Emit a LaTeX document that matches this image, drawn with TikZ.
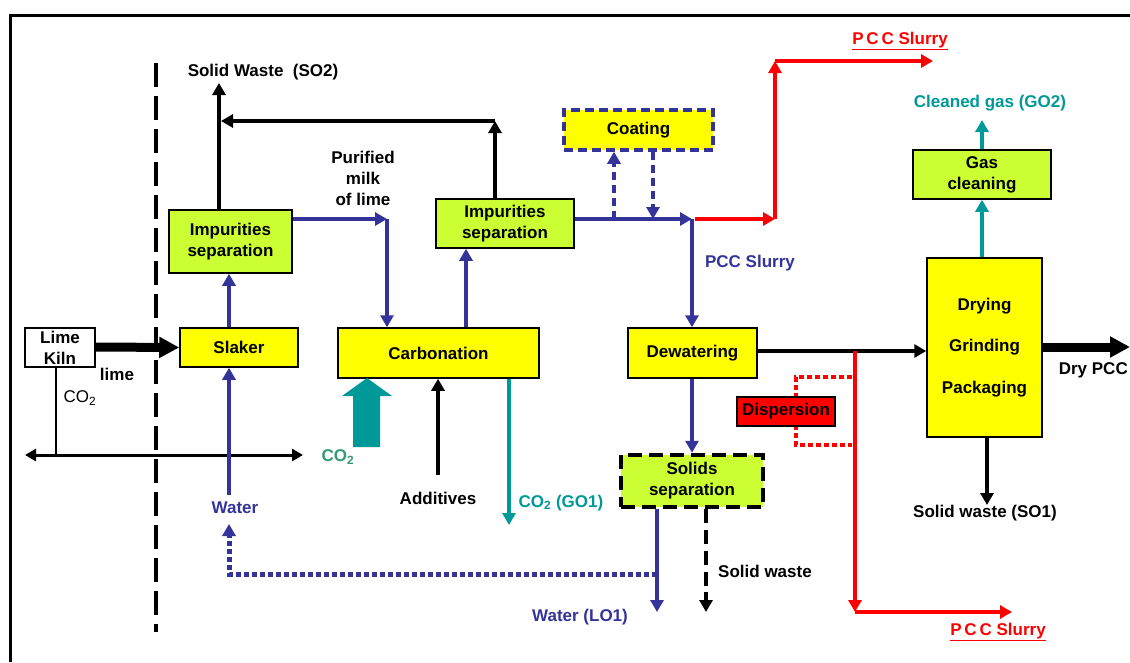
\documentclass[tikz,border=0pt]{standalone}
\usepackage{fontspec}
\setmainfont{Liberation Sans}
\usetikzlibrary{arrows.meta}
\definecolor{cyel}{HTML}{FFFF00}
\definecolor{clime}{HTML}{CCFF33}
\definecolor{cblue}{HTML}{333399}
\definecolor{cteal}{HTML}{009999}
\definecolor{cgreen}{HTML}{339977}
\definecolor{cred}{HTML}{FF0000}
\tikzset{
  txt/.style={font=\fontsize{17}{21}\selectfont\bfseries, inner sep=0pt, align=center},
  box/.style={txt, draw=black, line width=1.5pt, minimum width=#1},
  ybox/.style={box=#1, fill=cyel},
  gbox/.style={box=#1, fill=clime},
  tip/.style={-{Triangle[length=12pt,width=13pt]}},
  bl/.style={draw=cblue, line width=4pt},
  blk/.style={draw=black, line width=4.5pt},
  rd/.style={draw=cred, line width=4pt},
  tl/.style={draw=cteal, line width=3.5pt},
}
\begin{document}
\begin{tikzpicture}[x=1pt,y=-1pt]
\useasboundingbox (0,0) rectangle (1130,662);
\fill[white] (0,0) rectangle (1130,662);
% frame
\draw[line width=3pt] (10,662) -- (10,15) -- (1130,15);
% boundary dashed line
\draw[line width=4.5pt, dash pattern=on 24pt off 9pt] (156,63) -- (156,632);

% boxes
\node[box=70pt, fill=white, minimum height=39pt] (kiln) at (60,347.5) {Lime\\Kiln};
\node[ybox=118pt, minimum height=39pt] (slaker) at (239,347.5) {Slaker};
\node[gbox=123pt, minimum height=63pt] (imp1) at (230.5,241.5) {Impurities\\separation};
\node[ybox=201pt, minimum height=50pt] (carb) at (438.5,353) {Carbonation};
\node[gbox=138pt, minimum height=49pt] (imp2) at (505,223.5) {Impurities\\separation};
\node[box=149pt, fill=cyel, draw=cblue, line width=3.5pt, dash pattern=on 9pt off 5pt, minimum height=40pt] (coat) at (638.5,130) {Coating};
\node[ybox=129pt, minimum height=50pt] (dew) at (692.5,353) {Dewatering};
\node[box=142pt, fill=clime, line width=4.5pt, dash pattern=on 14pt off 7pt, minimum height=52pt] (solids) at (692,481) {Solids\\separation};
\node[ybox=115pt, minimum height=179pt] (dry) at (984.5,347.5) {};
\node[txt] at (984.5,306) {Drying};
\node[txt] at (984.5,347) {Grinding};
\node[txt] at (984.5,389) {Packaging};
\node[gbox=138pt, minimum height=49pt] (gas) at (982,174.5) {Gas\\cleaning};

% red dotted bracket (behind dispersion box)
\draw[cred, line width=4pt, dash pattern=on 5pt off 3pt] (852,377) -- (796,377) -- (796,445) -- (852,445);
\node[box=98pt, fill=cred, minimum height=29pt] (disp) at (786,411.5) {Dispersion};

% coordinates
\coordinate (co2l) at (25,455);
\coordinate (co2r) at (303,455);
\coordinate (co2v) at (56,455);
\coordinate (water) at (229,495);
\coordinate (sw2) at (219,83);
\coordinate (c121) at (495,121);
\coordinate (j121) at (221,121);
\coordinate (c387) at (387,219);
\coordinate (add) at (438,475);
\coordinate (go1) at (509,525);
\coordinate (j692) at (692,219);
\coordinate (r775) at (775,219);
\coordinate (r61) at (775,61);
\coordinate (r933) at (933,61);
\coordinate (s855) at (855,351);
\coordinate (r612) at (855,612);
\coordinate (r1012) at (1012,612);
\coordinate (lo1) at (657,612);
\coordinate (rec) at (657,574);
\coordinate (rec2) at (229,574);
\coordinate (rec3) at (229,524);
\coordinate (sw) at (706,612);
\coordinate (go2) at (982,120);
\coordinate (drypcc) at (1130,347);
\coordinate (so1) at (987,505);

% kiln to slaker
\draw[line width=9pt, -{Triangle[length=20pt,width=20pt]}] (kiln.east |- 0,347) -- (slaker.west);
\draw[line width=1.2pt] (kiln.south -| co2v) -- (co2v);
\draw[line width=3pt, {Triangle[length=11pt,width=12pt]}-{Triangle[length=11pt,width=12pt]}] (co2l) -- (co2r);

% blue flows
\draw[bl, tip] (slaker.north -| water) -- (imp1.south -| water);
\draw[bl, tip] (water) -- (slaker.south -| water);
\draw[bl, tip] (imp1.east |- c387) -- (c387);
\draw[bl, tip] (c387) -- (carb.north -| c387);
\draw[bl, tip] (carb.north -| 466,0) -- (imp2.south -| 466,0);
\draw[bl, tip] (imp2.east |- j692) -- (j692);
\draw[bl, tip] (j692) -- (dew.north -| j692);
\draw[bl, tip] (dew.south -| j692) -- (solids.north -| j692);
\draw[bl, tip] (solids.south -| lo1) -- (lo1);
\draw[cblue, line width=5pt, dash pattern=on 5pt off 3pt] (rec) -- (rec2) -- (229,536);
\draw[cblue, line width=5pt, tip] (229,538) -- (rec3);
\draw[cblue, line width=3.5pt, dash pattern=on 8pt off 5pt] (614,219) -- (614,162);
\draw[cblue, line width=3.5pt, tip] (614,164) -- (coat.south -| 614,0);
\draw[cblue, line width=3.5pt, dash pattern=on 8pt off 5pt, tip] (coat.south -| 653,0) -- (653,219);

% black flows
\draw[blk, tip] (imp1.north -| sw2) -- (sw2);
\draw[blk, tip] (imp2.north -| c121) -- (c121);
\draw[blk, tip] (c121) -- (j121);
\draw[blk, tip] (add) -- (carb.south -| add);
\draw[blk, tip] (dew.east |- 0,351) -- (dry.west |- 0,351);
\draw[line width=4.5pt, dash pattern=on 14pt off 7pt] (solids.south -| sw) -- (706,595);
\draw[blk, tip] (706,592) -- (sw);
\draw[blk, tip] (dry.south -| so1) -- (so1);
\draw[line width=9pt, -{Triangle[length=20pt,width=20pt]}] (dry.east |- drypcc) -- (drypcc);

% teal flows
\fill[cteal] (353,447) -- (380,447) -- (380,396) -- (392,396) -- (367,378) -- (342,396) -- (353,396) -- cycle;
\draw[tl, tip] (carb.south -| go1) -- (go1);
\draw[tl, tip] (dry.north -| go2) -- (gas.south -| go2);
\draw[tl, tip] (gas.north -| go2) -- (go2);

% red flows
\draw[rd, tip] (695,219) -- (r775);
\draw[rd, tip] (r775) -- (r61);
\draw[rd, tip] (r61) -- (r933);
\draw[rd, tip] (s855) -- (r612);
\draw[rd, tip] (r612) -- (r1012);

% labels
\node[txt] at (263,72) {Solid Waste\ \ (SO2)};
\node[txt] at (363,178) {Purified\\milk\\of lime};
\node[txt] at (117,374) {lime};
\node[txt, font=\fontsize{17}{21}\selectfont] at (80,398) {CO\textsubscript{2}};
\node[txt, text=cblue] at (235,508) {Water};
\node[txt, font=\fontsize{17}{21}\selectfont\bfseries, text=cgreen] at (338,457) {CO\textsubscript{2}};
\node[txt] at (438,498) {Additives};
\node[txt, text=cteal] at (561,503) {CO\textsubscript{2} (GO1)};
\node[txt, text=cblue] at (750,263) {PCC Slurry};
\node[txt, text=cred] at (900,41) {\underline{P\,C\,C Slurry}};
\node[txt, text=cred] at (998,632) {\underline{P\,C\,C Slurry}};
\node[txt, text=cblue] at (580,617) {Water (LO1)};
\node[txt] at (765,571) {Solid waste};
\node[txt, text=cteal] at (990,103) {Cleaned gas (GO2)};
\node[txt, anchor=east] at (1128,370) {Dry PCC};
\node[txt] at (985,513) {Solid waste (SO1)};
\end{tikzpicture}
\end{document}
